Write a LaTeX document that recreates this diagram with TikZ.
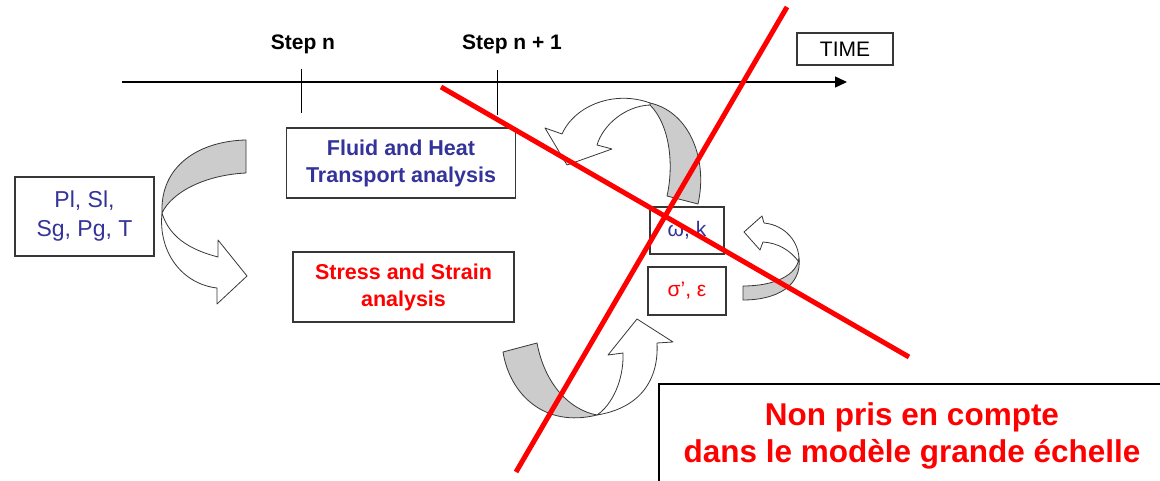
\documentclass[tikz,border=0pt]{standalone}
\usepackage{fontspec}
\setmainfont{Liberation Sans}
\usetikzlibrary{arrows.meta}
\definecolor{navy}{RGB}{51,51,153}
\definecolor{ribbongray}{RGB}{204,204,204}
\definecolor{edgegray}{RGB}{55,55,55}
\newcommand\fsz[2]{\fontsize{#1}{#2}\selectfont}
\begin{document}
\begin{tikzpicture}[x=1pt,y=-1pt,
  box/.style={draw=edgegray, line width=1.2pt, fill=white, inner sep=0pt, align=center},
  ribbonback/.style={fill=ribbongray, draw=edgegray, line width=0.8pt, line join=round},
  ribbonfront/.style={fill=white, draw=edgegray, line width=0.8pt, line join=round},
  redline/.style={draw=red, line width=5pt},
  tick/.style={draw=black, line width=1pt},
  steplabel/.style={anchor=base, font=\fsz{21}{25}\bfseries, inner sep=0pt}]
\useasboundingbox (0,0) rectangle (1160,481);
\fill[white] (0,0) rectangle (1160,481);

% time axis
\coordinate (t0) at (122,82);
\coordinate (t1) at (847,82);
\draw[line width=1.4pt, -{Triangle[length=12pt,width=11pt]}] (t0) -- (t1);
\coordinate (n0) at (301,69);  \coordinate (n1) at (301,113);
\coordinate (m0) at (497,70);  \coordinate (m1) at (497,115);
\draw[tick] (n0) -- (n1);
\draw[tick] (m0) -- (m1);
\node[steplabel] (stepn) at (303,50) {Step n};
\node[steplabel] (stepn1) at (512,50) {Step n + 1};
\node[box, minimum width=96pt, minimum height=32pt, font=\fsz{21}{25}] (time) at (845,49) {TIME};

% boxes
\node[box, minimum width=139pt, minimum height=79pt, text=navy, font=\fsz{23}{29}] (vars) at (84.5,216.5) {\raisebox{-3pt}{\parbox{130pt}{\centering Pl, Sl,\\Sg, Pg, T}}};
\node[box, minimum width=229pt, minimum height=70pt, text=navy, font=\fsz{21.5}{27}\bfseries] (fluid) at (401,163) {Fluid and Heat\\Transport analysis};
\node[box, minimum width=221pt, minimum height=70pt, text=red, font=\fsz{21.5}{27}\bfseries] (stress) at (403.5,287) {Stress and Strain\\analysis};
\node[box, minimum width=74pt, minimum height=47pt, text=navy, font=\fsz{21}{25}] (wk) at (687,230.5) {ω, k};
\node[box, minimum width=78pt, minimum height=48pt, text=red, font=\fsz{21}{25}] (se) at (687,291) {σ’, ε};

% ribbon arrow 1 (left)
\path[ribbonback] (246,140) .. controls (200,141) and (160,165) .. (162,213)
   .. controls (172,192) and (205,175) .. (246,173) -- cycle;
\path[ribbonfront] (162,213) .. controls (158,252) and (182,284) .. (217,288)
   -- (217,304) -- (247,276) -- (218,240) -- (218,257)
   .. controls (195,251) and (170,240) .. (162,213) -- cycle;

% ribbon arrow 2 (top right)
\path[ribbonback] (650,103) .. controls (690,112) and (708,160) .. (698,204)
   -- (667,196) .. controls (674,165) and (670,125) .. (650,105) -- cycle;
\path[ribbonfront] (650,103) .. controls (615,90) and (575,105) .. (562,134)
   -- (545,128) -- (567,165) -- (612,149) -- (597,145)
   .. controls (603,125) and (625,106) .. (650,105) -- cycle;

% ribbon arrow 3 (small right)
\path[ribbonfront] (744,232) -- (762,216) -- (764,223)
   .. controls (785,225) and (800,242) .. (799,262)
   .. controls (790,250) and (778,243) .. (763,242) -- (760,250) -- cycle;
\path[ribbonback] (799,258) .. controls (797,275) and (775,286) .. (743,286)
   -- (743,300) .. controls (778,300) and (802,285) .. (799,258) -- cycle;

% ribbon arrow 4 (bottom)
\path[ribbonback] (503,352) .. controls (510,395) and (545,428) .. (597,415)
   .. controls (570,410) and (545,385) .. (537,343) -- cycle;
\path[ribbonfront] (597,415) .. controls (640,408) and (659,380) .. (657,343)
   -- (673,342) -- (637,319) -- (608,355) -- (623,353)
   .. controls (624,380) and (612,405) .. (597,415) -- cycle;

% crossing red lines
\draw[redline] (441,87) -- (909,357);
\draw[redline] (787,7) -- (516,472);

% note box
\node[draw=black, line width=2.2pt, fill=white, minimum width=506pt, minimum height=104pt,
      inner sep=0pt, align=center, text=red, font=\fsz{31.5}{37}\bfseries] (note) at (912,436)
      {Non pris en compte\\dans le modèle grande échelle};
\end{tikzpicture}
\end{document}
